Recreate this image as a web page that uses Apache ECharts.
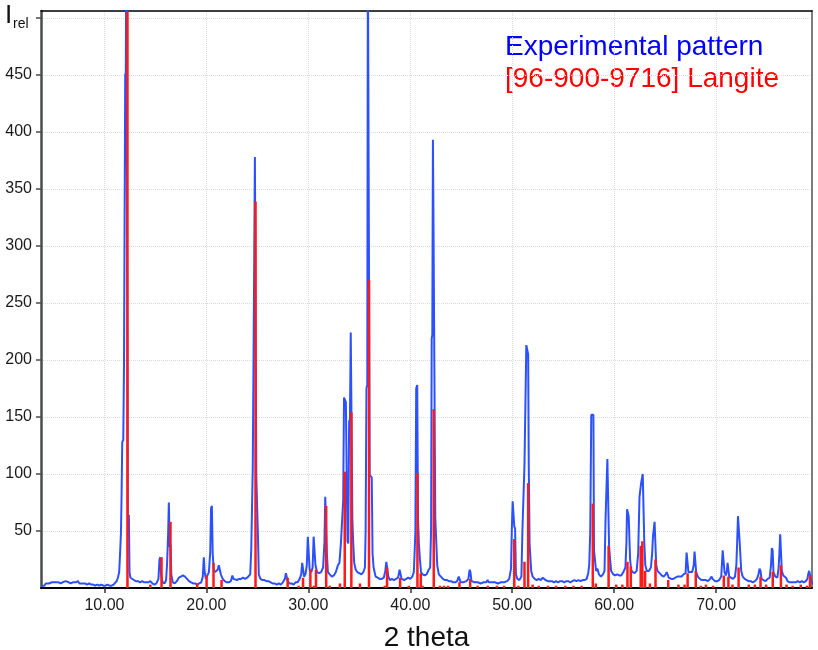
<!DOCTYPE html>
<html>
<head>
<meta charset="utf-8">
<title>Langite</title>
<script src="https://cdn.jsdelivr.net/npm/echarts@6/dist/echarts.min.js"></script>
<style>
    html,body{margin:0;padding:0;background:#fff;}
    #xrd{width:818px;height:650px;}
</style>
</head>
<body>
<div id="xrd"></div>
<script>
//坐标轴范围
var thetaRange = [3.78, 79.4];
var intensityRange = [0, 506];

//实验图谱 [2theta, I]
var expPattern = [
    [3.8,2],[3.95,3],[4.1,2],[4.25,4],[4.4,3],[4.55,4],[4.7,3],[4.85,5],[5.0,4],[5.2,5],[5.35,4],[5.5,5],[5.7,4],[5.9,5],[6.05,4],[6.2,6],[6.35,5],[6.5,5],[6.7,4],[6.9,5],[7.05,4],[7.2,5],[7.4,6],[7.55,4],[7.7,5],[7.9,4],[8.1,4],[8.3,3],[8.5,4],[8.7,3],[8.9,3],[9.1,2],[9.3,3],[9.5,2],[9.7,3],[9.9,2],[10.1,2],[10.3,3],[10.5,2],[10.7,2],[10.9,3],[11.05,4],[11.2,6],[11.32,9],
    [11.45,14],[11.55,33],[11.62,48],[11.68,79],[11.75,128],[11.85,130],[11.92,195],[11.98,196],[12.04,450],[12.1,452],[12.14,560],[12.22,560],[12.3,62],[12.4,64],[12.46,14],[12.55,9],[12.7,8],[12.9,7],[13.1,6],[13.3,6],[13.5,5],[13.7,6],[13.9,5],[14.1,5],[14.3,5],[14.5,6],[14.7,4],[14.9,3],[15.1,4],[15.3,8],[15.4,25],[15.48,27],[15.56,12],[15.7,5],[15.9,4],
    [16.05,7],[16.15,22],[16.25,48],[16.32,75],[16.4,36],[16.48,38],[16.56,12],[16.7,5],[16.9,4],[17.1,6],[17.3,9],[17.5,10],[17.7,11],[17.9,10],[18.1,8],[18.3,6],[18.5,5],[18.7,4],[18.9,4],[19.1,3],[19.3,4],[19.5,5],[19.65,10],[19.75,27],[19.83,14],[19.95,8],[20.1,9],[20.25,14],[20.38,32],[20.46,70],[20.54,72],[20.62,30],[20.72,16],[20.85,14],[21.0,13],[21.1,16],[21.22,20],[21.32,19],[21.42,12],[21.6,8],[21.8,6],[22.0,5],[22.2,5],[22.4,6],[22.55,11],[22.65,8],[22.8,7],[23.0,7],[23.2,8],[23.4,8],[23.6,9],[23.8,8],[24.0,9],
    [24.1,10],[24.3,12],[24.4,33],[24.48,34],[24.55,106],[24.63,206],[24.7,207],[24.76,378],[24.84,378],[24.9,97],[24.98,97],[25.06,45],[25.14,12],[25.3,8],[25.5,7],[25.7,7],[25.9,6],[26.1,6],[26.3,5],[26.5,4],[26.7,4],[26.9,3],[27.1,4],[27.3,3],[27.5,5],[27.7,8],[27.8,13],[27.9,14],[27.98,6],[28.15,4],[28.35,4],[28.55,3],[28.75,5],[28.95,5],[29.15,8],[29.3,12],[29.4,22],[29.5,22],[29.58,10],[29.72,12],[29.85,20],[29.95,45],[30.05,45],[30.13,16],[30.3,14],[30.42,18],[30.52,45],[30.62,45],[30.7,20],[30.85,14],[31.05,13],[31.25,14],[31.45,18],[31.58,40],[31.66,80],[31.74,81],[31.82,30],[31.92,14],[32.1,12],[32.3,10],[32.5,11],[32.7,14],[32.9,20],[33.05,22],
    [33.2,40],[33.3,40],[33.42,77],[33.5,167],[33.6,168],[33.68,163],[33.76,163],[33.84,41],[33.92,39],[34.0,146],[34.08,148],[34.16,224],[34.24,224],[34.32,60],[34.4,40],[34.5,22],[34.65,16],[34.8,14],[35.0,13],[35.2,12],[35.4,14],[35.55,18],[35.62,50],[35.7,175],[35.78,178],[35.84,560],[35.96,560],[36.02,99],[36.12,98],[36.22,97],[36.3,30],[36.4,18],[36.6,10],[36.8,9],[37.0,8],[37.2,8],[37.4,9],[37.55,15],[37.65,23],[37.75,22],[37.85,10],[38.0,7],[38.2,8],[38.4,7],[38.6,8],[38.8,9],[38.95,16],[39.05,15],[39.15,8],[39.4,7],[39.6,8],[39.8,9],[40.0,8],[40.2,10],[40.35,14],
    [40.5,49],[40.58,175],[40.68,178],[40.76,60],[40.84,40],[40.93,27],[41.05,14],[41.2,12],[41.4,11],[41.6,12],[41.8,16],[41.95,18],[42.04,51],[42.1,219],[42.16,222],[42.22,393],[42.28,315],[42.38,315],[42.45,62],[42.56,62],[42.64,20],[42.8,12],[43.0,10],[43.2,8],[43.4,7],[43.6,7],[43.8,6],[44.0,6],[44.2,5],[44.4,5],[44.6,6],[44.75,10],[44.85,10],[44.95,5],[45.2,5],[45.5,6],[45.7,8],[45.82,16],[45.9,14],[46.0,6],[46.3,5],[46.6,5],[46.9,4],[47.2,5],[47.45,5],[47.58,7],[47.7,5],[48.0,5],[48.3,5],[48.6,4],[48.9,5],[49.2,5],[49.5,6],[49.7,8],
    [49.88,17],[49.96,52],[50.04,76],[50.12,76],[50.2,54],[50.28,52],[50.36,12],[50.5,8],[50.7,7],[50.9,10],[51.0,51],[51.1,52],[51.2,108],[51.3,108],[51.38,213],[51.47,213],[51.56,205],[51.62,108],[51.7,39],[51.78,38],[51.86,15],[52.0,10],[52.2,8],[52.4,7],[52.6,8],[52.8,7],[53.0,9],[53.1,10],[53.25,7],[53.5,6],[53.7,6],[53.9,6],[54.1,5],[54.3,6],[54.5,5],[54.7,6],[54.9,6],[55.1,5],[55.3,6],[55.5,6],[55.7,5],[55.9,6],[56.1,7],[56.3,6],[56.5,7],[56.7,6],[56.9,7],[57.1,7],[57.3,8],
    [57.45,13],[57.55,20],[57.65,49],[57.75,152],[57.82,152],[57.88,153],[57.96,152],[58.02,33],[58.15,33],[58.22,15],[58.35,17],[58.5,12],[58.7,10],[58.9,12],[59.05,15],[59.15,60],[59.25,60],[59.33,113],[59.43,113],[59.5,36],[59.6,25],[59.7,15],[59.9,12],[60.1,11],[60.3,12],[60.5,11],[60.7,11],[60.9,14],[61.1,18],[61.2,40],[61.26,69],[61.34,69],[61.42,63],[61.5,63],[61.56,25],[61.66,16],[61.8,14],[62.0,13],[62.2,15],[62.35,30],[62.48,80],[62.56,80],[62.64,92],[62.72,92],[62.8,100],[62.88,100],[62.95,40],[63.05,20],[63.2,15],[63.4,15],[63.6,18],[63.72,30],[63.8,45],[63.88,45],[63.96,58],[64.06,58],[64.12,20],[64.25,15],[64.45,13],[64.65,11],[64.85,10],
    [65.05,12],[65.15,14],[65.25,14],[65.35,9],[65.6,8],[65.8,8],[66.0,9],[66.2,10],[66.4,10],[66.6,10],[66.8,12],[67.0,13],[67.1,31],[67.2,31],[67.28,14],[67.45,13],[67.65,14],[67.8,20],[67.88,32],[67.96,32],[68.04,14],[68.2,10],[68.4,8],[68.6,7],[68.8,7],[69.0,7],[69.2,6],[69.4,8],[69.55,10],[69.65,8],[69.9,6],[70.1,6],[70.3,7],[70.5,10],[70.64,33],[70.74,33],[70.82,14],[70.95,11],[71.05,15],[71.12,22],[71.2,22],[71.28,10],[71.45,9],[71.65,8],[71.85,10],[71.98,20],[72.06,40],[72.14,63],[72.22,63],[72.3,41],[72.38,41],[72.46,15],[72.6,10],[72.8,8],[73.0,7],[73.2,6],[73.4,6],[73.6,5],[73.8,6],[74.0,8],
    [74.15,12],[74.25,17],[74.35,15],[74.45,8],[74.65,7],[74.85,6],[75.05,8],[75.25,9],[75.38,20],[75.46,35],[75.54,33],[75.62,14],[75.8,10],[76.0,9],[76.12,17],[76.2,30],[76.28,47],[76.36,47],[76.44,15],[76.58,11],[76.72,12],[76.85,9],[77.0,6],[77.2,5],[77.4,5],[77.6,5],[77.8,5],[78.0,6],[78.2,5],[78.4,6],[78.6,5],[78.8,6],[78.95,8],[79.05,13],[79.12,15],[79.2,15],[79.3,8],[79.45,4],[79.6,3]
];

//标准卡片 96-900-9716 Langite 谱线 [2theta, I]
var langiteLines = [
    [12.26,560],[14.5,3],[15.6,27],[16.48,58],[19.1,4],[20.02,11],[20.7,22],[21.49,7],[24.82,339],[27.97,9],
    [29.05,2],[29.48,9],[30.2,16],[30.55,2],[30.75,16],[31.75,72],[32.1,2],[33.1,4],[33.57,102],[34.22,154],
    [35.06,4],[35.95,270],[37.5,2],[37.72,18],[39.0,9],[39.85,2],[40.7,101],[41.03,13],[41.2,2],[42.3,157],
    [42.9,2],[43.3,2],[43.7,2],[44.82,5],[45.87,8],[46.6,2],[47.6,2],[48.5,2],[49.2,2],[50.2,43],
    [50.6,2],[51.2,23],[51.56,92],[52.0,3],[52.6,2],[53.5,2],[54.3,2],[55.2,2],[56.0,2],[56.8,2],
    [57.9,74],[58.2,4],[59.45,37],[60.2,3],[60.8,3],[61.3,23],[61.63,19],[62.6,37],[62.76,41],[63.03,15],
    [63.5,4],[64.05,25],[65.3,7],[66.3,3],[66.9,3],[67.2,13],[68.0,15],[68.5,2],[69.0,3],[69.7,2],
    [70.75,11],[71.2,10],[71.6,3],[72.2,18],[73.2,3],[73.8,3],[74.35,10],[74.9,3],[75.55,14],[76.35,20],
    [76.9,3],[77.5,2],[78.3,3],[78.9,2],[79.2,11]
];

//图例文字
var legendNames = ['Experimental pattern', '[96-900-9716] Langite'];

var FONT = "'Liberation Sans', Arial, sans-serif";
var chart = echarts.init(document.getElementById('xrd'));

var option = {
    backgroundColor: '#fff',
    animation: false,
    //outerBoundsMode none: 不让坐标轴名称挤压绘图区
    grid: {left: 41, right: 6, top: 11, bottom: 62, containLabel: false, outerBoundsMode: 'none'},
    xAxis: [
        {
            type: 'value',
            min: thetaRange[0],
            max: thetaRange[1],
            minInterval: 10,
            maxInterval: 10,
            name: '2 theta',
            nameLocation: 'middle',
            nameGap: 36,
            nameTextStyle: {fontFamily: FONT, fontSize: 28, color: '#111'},
            axisLine: {onZero: false, lineStyle: {color: '#000', width: 2}},
            axisTick: {show: true, length: 5, lineStyle: {color: '#333', width: 1.5}},
            axisLabel: {
                fontFamily: FONT, fontSize: 16, color: '#1a1a1a', margin: 10,
                showMinLabel: false, showMaxLabel: false,
                formatter: function(v){ return (v % 10 === 0) ? v.toFixed(2) : ''; }
            },
            splitLine: {show: true, lineStyle: {color: '#d6dde0', type: 'dotted', width: 1}}
        },
        {
            type: 'value',
            position: 'top',
            min: thetaRange[0],
            max: thetaRange[1],
            axisLine: {onZero: false, lineStyle: {color: '#000', width: 1.5}},
            axisTick: {show: false},
            axisLabel: {show: false},
            splitLine: {show: false}
        }
    ],
    yAxis: [
        {
            type: 'value',
            min: intensityRange[0],
            max: intensityRange[1],
            interval: 50,
            axisLine: {show: true, onZero: false, lineStyle: {color: '#4a4d4d', width: 2.5}},
            axisTick: {show: true, length: 5, lineStyle: {color: '#4a4d4d', width: 1.5}},
            axisLabel: {
                fontFamily: FONT, fontSize: 16, color: '#1a1a1a', margin: 9,
                showMinLabel: false, showMaxLabel: false,
                formatter: function(v){ return (v > 0 && v < 500) ? String(v) : ''; }
            },
            splitLine: {show: true, lineStyle: {color: '#d6dde0', type: 'dotted', width: 1}}
        },
        {
            type: 'value',
            position: 'right',
            min: intensityRange[0],
            max: intensityRange[1],
            axisLine: {show: true, onZero: false, lineStyle: {color: '#7d7d7d', width: 2}},
            axisTick: {show: false},
            axisLabel: {show: false},
            splitLine: {show: false}
        }
    ],
    graphic: [
        //纵轴标题 I rel
        {type: 'text', left: 5, top: 3, style: {text: 'I', font: '26px ' + FONT, fill: '#111'}},
        {type: 'text', left: 13, top: 17, style: {text: 'rel', font: '14px ' + FONT, fill: '#111'}},
        //图例
        {type: 'text', left: 505, top: 33, style: {text: legendNames[0], font: '28px ' + FONT, fill: '#0000ff'}},
        {type: 'text', left: 505, top: 65, style: {text: legendNames[1], font: '28px ' + FONT, fill: '#ff0000'}}
    ],
    series: [
        {
            name: legendNames[0],
            type: 'line',
            data: expPattern,
            showSymbol: false,
            symbol: 'none',
            clip: true,
            lineStyle: {color: '#2d50ff', width: 2},
            z: 2
        },
        {
            name: legendNames[1],
            type: 'custom',
            data: langiteLines,
            z: 3,
            renderItem: function(params, api){
                var p0 = api.coord([api.value(0), 0]);
                var p1 = api.coord([api.value(0), api.value(1)]);
                var top = params.coordSys.y;
                return {
                    type: 'line',
                    shape: {x1: p0[0], y1: p0[1], x2: p1[0], y2: Math.max(p1[1], top)},
                    style: {stroke: '#ff1a1a', lineWidth: 2.5}
                };
            }
        }
    ]
};

chart.setOption(option);
</script>
</body>
</html>
